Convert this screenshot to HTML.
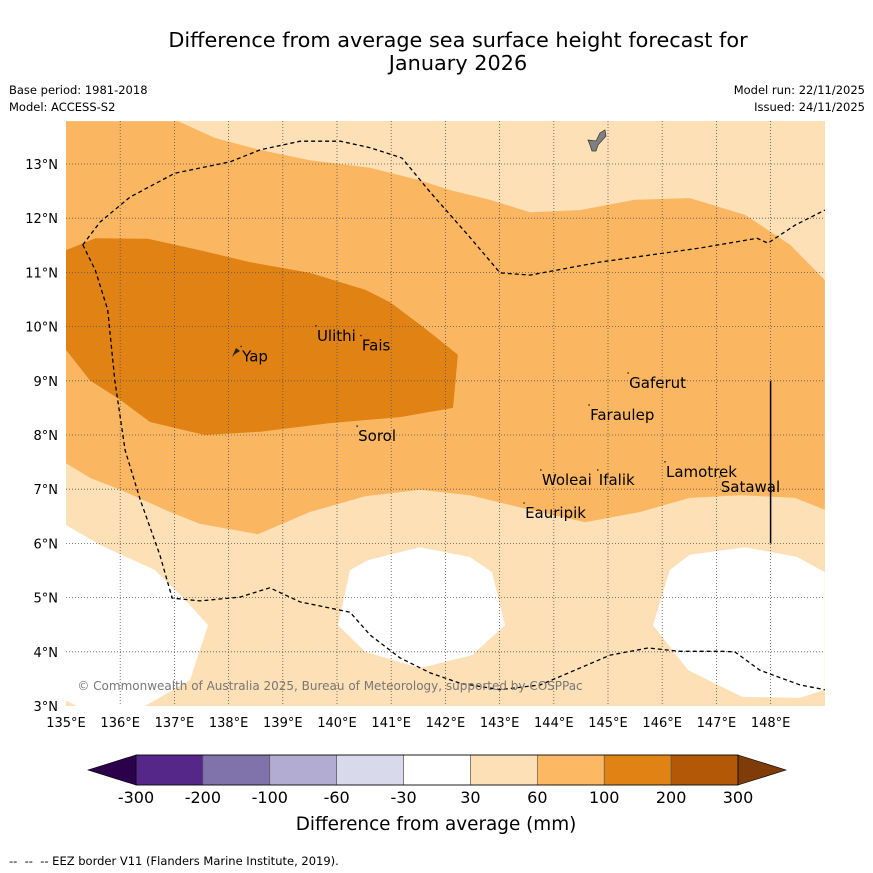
<!DOCTYPE html>
<html><head><meta charset="utf-8"><style>
body{margin:0;background:#fff;width:873px;height:873px;overflow:hidden;font-family:"DejaVu Sans","Liberation Sans",sans-serif}
svg{display:block}
</style></head><body>
<svg id="chart" width="873" height="873" xmlns="http://www.w3.org/2000/svg">
<rect width="873" height="873" fill="#fff"/>
<text x="458" y="47" font-size="20.8" text-anchor="middle">Difference from average sea surface height forecast for</text>
<text x="458" y="70" font-size="20.8" text-anchor="middle">January 2026</text>
<text x="9" y="94" font-size="11.5">Base period: 1981-2018</text>
<text x="9" y="111" font-size="11.5">Model: ACCESS-S2</text>
<text x="865" y="94" font-size="11.5" text-anchor="end">Model run: 22/11/2025</text>
<text x="865" y="111" font-size="11.5" text-anchor="end">Issued: 24/11/2025</text>
<defs><clipPath id="mapclip"><rect x="66" y="121" width="759" height="585"/></clipPath></defs>
<g id="map" clip-path="url(#mapclip)">
<rect x="66" y="121" width="759" height="585" fill="#fde0b6"/>
</g>
<text x="330" y="690" font-size="12" fill="#777" text-anchor="middle">© Commonwealth of Australia 2025, Bureau of Meteorology, supported by COSPPac</text>
<g id="axes"></g>
<g id="cbar"></g>
<text x="436" y="830" font-size="18.4" text-anchor="middle">Difference from average (mm)</text>
<text x="9" y="865" font-size="11.5">-- &#160;-- &#160;-- EEZ border V11 (Flanders Marine Institute, 2019).</text>
</svg>
<script>
const lonTicks=[135,136,137,138,139,140,141,142,143,144,145,146,147,148];
const latTicks=[3,4,5,6,7,8,9,10,11,12,13];
const cbLevels=[-300,-200,-100,-60,-30,30,60,100,200,300];
const cbColors=["#542788","#8073ac","#b2abd2","#d8daeb","#ffffff","#fee0b6","#fdb863","#e08214","#b35806"];
const bandOrange=[[137.07,13.79],[137.75,13.48],[138.58,13.26],[139.5,13.07],[140.61,12.93],[141.53,12.7],[142.08,12.52],[142.82,12.34],[143.56,12.11],[144.48,12.15],[145.5,12.34],[146.51,12.37],[147.53,12.06],[148.36,11.51],[149,10.86],[149,6.62],[148.45,6.84],[147.44,6.89],[146.51,6.84],[145.59,6.58],[144.58,6.39],[143.56,6.62],[142.45,6.89],[141.53,6.99],[140.52,6.87],[139.5,6.58],[138.54,6.17],[137.47,6.36],[136.92,6.58],[136,6.99],[135.44,7.21],[135,7.48],[135,13.79]];
const bandDark=[[135,11.41],[135.54,11.63],[136.51,11.62],[137.47,11.41],[138.39,11.19],[139.5,10.99],[140.52,10.68],[140.98,10.45],[141.62,9.97],[142.23,9.48],[142.14,8.5],[141.16,8.33],[139.87,8.22],[138.58,8.06],[137.56,8],[136.55,8.24],[136,8.65],[135.44,9.01],[135,9.57]];
const whiteLeft=[[135,6.34],[135.63,5.97],[136.64,5.51],[137.2,4.96],[137.62,4.49],[137.29,3.48],[136.46,3],[135.2,3],[135,3.1]];
const whiteMid=[[140.24,5.51],[140.57,5.69],[141.53,5.93],[142.45,5.75],[142.86,5.47],[143.1,4.49],[142.49,3.94],[141.53,3.7],[140.52,4],[140.02,4.49]];
const whiteRight=[[146.14,5.51],[146.51,5.79],[147.53,5.93],[148.49,5.75],[149,5.47],[149,3.3],[148.54,3.15],[147.47,3.17],[146.48,3.66],[145.83,4.49]];
const eezNorth=[[135.31,11.51],[135.63,11.93],[136.18,12.39],[137.01,12.83],[138.03,13.04],[138.58,13.26],[139.32,13.42],[140.06,13.42],[140.61,13.3],[141.2,13.11],[141.72,12.48],[142.45,11.65],[143.01,10.99],[143.56,10.95],[144.85,11.19],[146.7,11.45],[147.75,11.63],[147.95,11.54],[148.45,11.87],[149,12.15]];
const eezSouth=[[135.31,11.51],[135.54,11.04],[135.77,10.31],[135.9,9.01],[136.09,7.72],[136.37,6.8],[136.73,5.79],[136.96,4.99],[137.47,4.94],[138.21,5.01],[138.76,5.18],[139.32,4.92],[140.24,4.73],[140.61,4.31],[141.16,3.89],[141.72,3.61],[142.27,3.42],[143.01,3.3],[143.75,3.39],[144.39,3.66],[145.04,3.94],[145.74,4.07],[146.33,4.01],[147.07,4.01],[147.34,4],[147.8,3.66],[148.54,3.39],[149,3.3]];
const islandNames=["Ulithi","Fais","Yap","Gaferut","Faraulep","Sorol","Woleai","Ifalik","Lamotrek","Satawal","Eauripik"];
const islandLon=[139.63,140.46,138.25,145.39,144.67,140.39,143.78,144.83,146.07,147.08,143.47];
const islandLat=[9.83,9.65,9.45,8.96,8.37,7.98,7.17,7.17,7.32,7.04,6.56];
const NS="http://www.w3.org/2000/svg";
const X=lon=>66+(lon-135)*54.2, Y=lat=>164+(13-lat)*54.2;
const map=document.getElementById('map'), axes=document.getElementById('axes'), cbar=document.getElementById('cbar');
function mk(tag,attrs,parent){const e=document.createElementNS(NS,tag);for(const k in attrs)e.setAttribute(k,attrs[k]);parent.appendChild(e);return e;}
const pts=a=>a.map(p=>X(p[0]).toFixed(1)+','+Y(p[1]).toFixed(1)).join(' ');
let e;
e=mk('polygon',{points:pts(bandOrange),fill:'#fbb661'},map);


e=mk('polygon',{points:pts(bandDark),fill:'#e08214'},map);


[[whiteLeft,'white-region-west'],[whiteMid,'white-region-central'],[whiteRight,'white-region-east']].forEach(([a,n])=>{
 e=mk('polygon',{points:pts(a),fill:'#ffffff'},map);
 
 
});
lonTicks.forEach(l=>{if(l>135){e=mk('line',{x1:X(l),x2:X(l),y1:121,y2:706,stroke:'#555','stroke-width':0.8,'stroke-dasharray':'1,2'},map);
 
 }
 e=mk('text',{x:X(l),y:727,'font-size':13,'text-anchor':'middle'},axes);e.textContent=l+'°E';
 
 
});
latTicks.forEach(l=>{if(l>3){e=mk('line',{x1:66,x2:825,y1:Y(l),y2:Y(l),stroke:'#555','stroke-width':0.8,'stroke-dasharray':'1,2'},map);
 
 }
 e=mk('text',{x:58,y:Y(l)+5,'font-size':13,'text-anchor':'end'},axes);e.textContent=l+'°N';
 
 
});
[[eezNorth,'eez-border-north'],[eezSouth,'eez-border-south']].forEach(([a,n])=>{
 e=mk('polyline',{points:pts(a),fill:'none',stroke:'#000','stroke-width':1.3,'stroke-dasharray':'4,3'},map);
 
 
});
e=mk('line',{x1:X(148),x2:X(148),y1:Y(9),y2:Y(6),stroke:'#000','stroke-width':1.5},map);


e=mk('path',{d:'M588,140 L596,141 L600,133 L605,130 L606,136 L598,145 L596,151 L592,151 L590,145 Z',fill:'#808080',stroke:'#333','stroke-width':0.7},map);


e=mk('path',{d:'M232,357 L236,348 L240,351 L235,354 Z',fill:'#222'},map);


islandNames.forEach((n,i)=>{
 e=mk('circle',{cx:X(islandLon[i])-1,cy:Y(islandLat[i])-10,r:0.8,fill:'#222'},map);
 
 
 e=mk('text',{x:X(islandLon[i]),y:Y(islandLat[i])+5,'font-size':15},map);e.textContent=n;
 
 
});
const cx0=136,cx1=738,cy0=755,cy1=785,sw=(cx1-cx0)/cbColors.length;
e=mk('polygon',{points:`${cx0},${cy0} ${cx0},${cy1} 88,770`,fill:'#2d004b',stroke:'#000','stroke-width':0.6},cbar);


e=mk('polygon',{points:`${cx1},${cy0} ${cx1},${cy1} 786,770`,fill:'#7f3b08',stroke:'#000','stroke-width':0.6},cbar);


cbColors.forEach((c,i)=>{
 e=mk('rect',{x:cx0+i*sw,y:cy0,width:sw,height:cy1-cy0,fill:c,stroke:'#555','stroke-width':0.6},cbar);
 
 
});
mk('rect',{x:cx0,y:cy0,width:cx1-cx0,height:cy1-cy0,fill:'none',stroke:'#000','stroke-width':0.8},cbar);
cbLevels.forEach((v,i)=>{
 e=mk('text',{x:cx0+i*sw,y:803,'font-size':16,'text-anchor':'middle'},cbar);e.textContent=v;
 
 
});
</script>
</body></html>
